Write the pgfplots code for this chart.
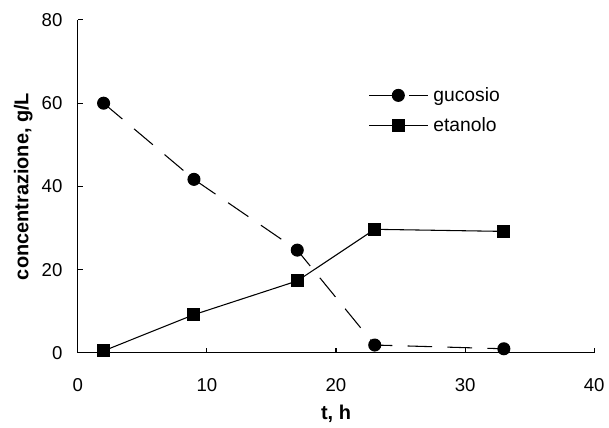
\documentclass[border=0pt]{standalone}
\usepackage{fontspec}
\setmainfont{Liberation Sans}
\usepackage{pgfplots}
\pgfplotsset{compat=1.18}
\begin{document}
\begin{tikzpicture}
\begin{axis}[
  scale only axis,
  width=388.5pt, height=250.5pt,
  xmin=0, xmax=40, ymin=0, ymax=80,
  axis lines=left,
  axis line style={-, line width=0.8pt},
  xtick={0,10,20,30,40}, ytick={0,20,40,60,80},
  tick align=inside,
  major tick length=4pt,
  tick style={line width=0.8pt, black},
  /pgf/number format/assume math mode=true,
  ticklabel style={font=\fontsize{14}{16}\selectfont},
  xticklabel style={yshift=-16pt},
  yticklabel style={xshift=-8pt},
  xlabel={\textbf{t, h}},
  ylabel={\textbf{concentrazione, g/L}},
  xlabel style={font=\fontsize{15}{17}\selectfont, yshift=-3pt},
  ylabel style={font=\fontsize{15}{17}\selectfont, yshift=0pt},
  legend style={draw=none, fill=none, at={(axis cs:22.5,64.5)}, anchor=north west,
    inner xsep=0pt, inner ysep=0pt,
    font=\fontsize{14.5}{16}\selectfont, row sep=7pt,
    nodes={inner xsep=4pt}},
  legend cell align=left,
  legend image code/.code={\draw[mark=none] (0pt,0pt) -- (44pt,0pt); \draw[only marks] plot coordinates {(22pt,0pt)};},
]
\addplot[black, line width=0.8pt, dash pattern=on 18.5pt off 11.5pt, mark=*, mark size=4.5pt, mark options={solid, fill=black}]
  coordinates {(2,60) (9,41.7) (17,24.7) (23,1.9) (33,1.0)};
\addlegendentry{gucosio}
\addplot[black, line width=0.8pt, mark=square*, mark size=4.5pt, mark options={solid, fill=black}]
  coordinates {(2,0.5) (9,9.2) (17,17.3) (23,29.7) (33,29.2)};
\addlegendentry{etanolo}
\end{axis}
\useasboundingbox (current axis.south west) ++(-58.5pt,-56.25pt) rectangle ([xshift=9.75pt,yshift=15pt]current axis.north east);
\end{tikzpicture}
\end{document}
